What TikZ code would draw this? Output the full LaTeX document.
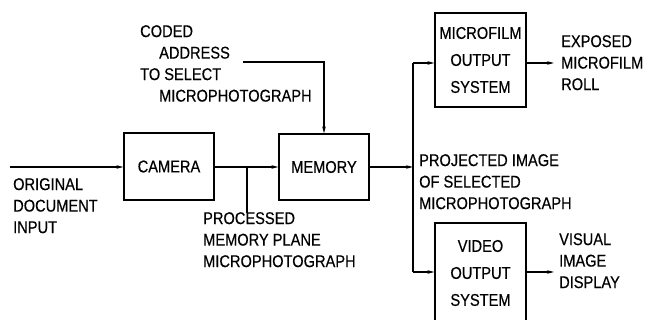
\documentclass[tikz,border=0pt]{standalone}
\usepackage{fontspec}
\setmainfont{Liberation Sans}[FakeStretch=0.86, FakeBold=0.4]
\usetikzlibrary{arrows.meta}

\begin{document}
\begin{tikzpicture}[
    x=1pt, y=-1pt,
    font=\fontsize{17}{21.5}\selectfont,
    block/.style={
        draw, line width=1.1pt, align=center, inner sep=0pt
    },
    flow/.style={-{Stealth[length=7pt,width=3.5pt]}, line width=1.1pt},
    wire/.style={line width=1.1pt},
    label/.style={anchor=north west, inner sep=0pt, align=left}
]
\clip (0,0) rectangle (646,320);

% Blocks
\node[block, minimum width=90pt, minimum height=67pt] (camera) at (169,166.5) {CAMERA};
\node[block, minimum width=90pt, minimum height=66pt] (memory) at (324,167) {MEMORY};
\node[block, minimum width=91pt, minimum height=94pt, font=\fontsize{17}{27}\selectfont]
    (film) at (480.5,60) {MICROFILM\\OUTPUT\\SYSTEM};
\node[block, minimum width=91pt, minimum height=100pt, font=\fontsize{17}{27}\selectfont]
    (video) at (480.5,273) {VIDEO\\OUTPUT\\SYSTEM};

% Free ends and junctions
\coordinate (src) at (10,167);
\coordinate (tap) at (247,167);
\coordinate (tapend) at (247,213);
\coordinate (addr) at (243,62);
\coordinate (bus) at (413,167);
\coordinate (bustop) at (413,63);
\coordinate (busbot) at (413,272);
\coordinate (rollend) at (554,63);
\coordinate (dispend) at (554,272);

% Connectors
\draw[flow] (src) -- (camera.west |- src);
\draw[flow] (camera.east |- src) -- (memory.west |- src);
\draw[wire] (tap) -- (tapend);
\draw[flow] (addr) -| (memory.north);
\draw[flow] (memory.east |- bus) -- (bus);
\draw[wire] (bustop) -- (busbot);
\draw[flow] (bustop) -- (film.west |- bustop);
\draw[flow] (busbot) -- (video.west |- busbot);
\draw[flow] (film.east |- rollend) -- (rollend);
\draw[flow] (video.east |- dispend) -- (dispend);

% Labels
\node[label] (coded) at (140,25) {CODED\\\hspace*{19pt}ADDRESS\\TO SELECT\\\hspace*{19pt}MICROPHOTOGRAPH};
\node[label] (orig) at (13,178) {ORIGINAL\\DOCUMENT\\INPUT};
\node[label] (proc) at (203,212) {PROCESSED\\MEMORY PLANE\\MICROPHOTOGRAPH};
\node[label] (proj) at (419,154) {PROJECTED IMAGE\\OF SELECTED\\MICROPHOTOGRAPH};
\node[label] (roll) at (561,35) {EXPOSED\\MICROFILM\\ROLL};
\node[label] (disp) at (559,233) {VISUAL\\IMAGE\\DISPLAY};

\end{tikzpicture}
\end{document}
